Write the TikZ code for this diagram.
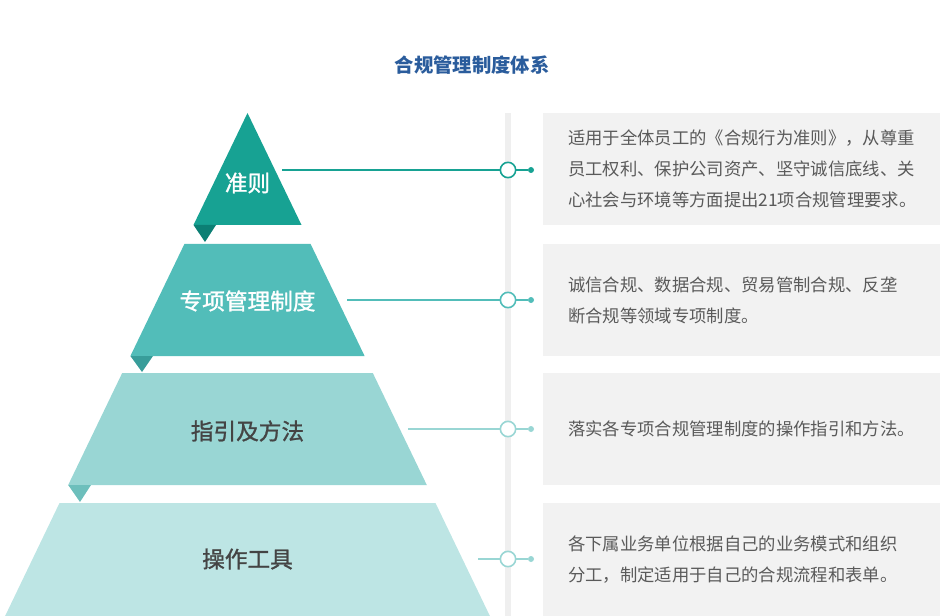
\documentclass[tikz,border=0pt]{standalone}
\usepackage{fontspec}
\newfontfamily\cjk{Noto Sans CJK SC}
\newfontfamily\cjklbl[FakeBold=1.2]{Noto Sans CJK SC}
\usetikzlibrary{positioning}

\definecolor{tierA}{HTML}{17A293}
\definecolor{tierAdk}{HTML}{0C7F74}
\definecolor{tierB}{HTML}{52BDB9}
\definecolor{tierBdk}{HTML}{389D9A}
\definecolor{tierC}{HTML}{99D6D4}
\definecolor{tierCdk}{HTML}{6DBFBC}
\definecolor{tierD}{HTML}{BDE5E4}
\definecolor{titleblue}{HTML}{2A5C9C}
\definecolor{boxgray}{HTML}{F2F2F2}
\definecolor{bargray}{HTML}{EFEFEF}
\definecolor{txtgray}{HTML}{5A5A5A}
\definecolor{lblgray}{HTML}{444444}

\begin{document}
\begin{tikzpicture}[x=0.75pt,y=-0.75pt,
  ring/.style={circle,draw=#1,fill=white,line width=1.2pt,minimum size=11.5pt,inner sep=0pt},
  knob/.style={circle,fill=#1,minimum size=4.5pt,inner sep=0pt},
  link/.style={draw=#1,line width=1.3pt},
  tierlbl/.style={font=\cjklbl\fontsize{17}{18}\selectfont},
  descbox/.style={fill=boxgray,minimum width=297.75pt,inner sep=0pt},
  desctext/.style={font=\cjk\fontsize{13}{23.25}\selectfont,text=txtgray,align=left,inner sep=0pt,anchor=west}]
\useasboundingbox (0,0) rectangle (944,616);

\node[font=\cjk\fontsize{14.5}{16}\selectfont\bfseries,text=titleblue] (title) at (472,65) {合规管理制度体系};

% grey rail
\fill[bargray] (505,113) rectangle (511,616);

% pyramid
\fill[tierA] (247.5,113) -- (301.5,225) -- (193.5,225) -- cycle;
\fill[tierAdk] (193.5,225) -- (216,225) -- (205,242) -- cycle;
\fill[tierB] (184.4,244) -- (310.6,244) -- (364.6,356) -- (130.4,356) -- cycle;
\fill[tierBdk] (130.4,356) -- (153,356) -- (142,372) -- cycle;
\fill[tierC] (122.2,373) -- (372.8,373) -- (426.8,485) -- (68.2,485) -- cycle;
\fill[tierCdk] (68.2,485) -- (91,485) -- (80,502) -- cycle;
\fill[tierD] (59.5,503) -- (435.5,503) -- (489.9,616) -- (5.1,616) -- cycle;

\node[tierlbl,text=white] (t1) at (247.5,183) {准则};
\node[tierlbl,text=white] (t2) at (247.5,301) {专项管理制度};
\node[tierlbl,text=lblgray] (t3) at (247.5,431) {指引及方法};
\node[tierlbl,text=lblgray] (t4) at (247.5,559) {操作工具};

% connectors
\coordinate (s1) at (282,170);
\coordinate (s2) at (347,300);
\coordinate (s3) at (408,429);
\coordinate (s4) at (478,559);
\node[ring=tierA] (c1) at (508,170) {};
\node[ring=tierB] (c2) at (508,300) {};
\node[ring=tierC] (c3) at (508,429) {};
\node[ring=tierC] (c4) at (508,559) {};
\node[knob=tierA] (k1) at (531,170) {};
\node[knob=tierB] (k2) at (531,300) {};
\node[knob=tierC] (k3) at (531,429) {};
\node[knob=tierC] (k4) at (531,559) {};
\draw[link=tierA] (s1) -- (c1) (c1) -- (k1);
\draw[link=tierB] (s2) -- (c2) (c2) -- (k2);
\draw[link=tierC] (s3) -- (c3) (c3) -- (k3);
\draw[link=tierC] (s4) -- (c4) (c4) -- (k4);

% descriptions
\node[descbox,minimum height=84pt] (b1) at (741.5,169) {};
\node[descbox,minimum height=84pt] (b2) at (741.5,300) {};
\node[descbox,minimum height=84pt] (b3) at (741.5,429) {};
\node[descbox,minimum height=84.75pt] (b4) at (741.5,559.5) {};
\node[desctext] (d1) at ([xshift=18.75pt]b1.west) {适用于全体员工的《合规行为准则》，从尊重\\员工权利、保护公司资产、坚守诚信底线、关\\心社会与环境等方面提出21项合规管理要求。};
\node[desctext] (d2) at ([xshift=18.75pt]b2.west) {诚信合规、数据合规、贸易管制合规、反垄\\断合规等领域专项制度。};
\node[desctext] (d3) at ([xshift=18.75pt]b3.west) {落实各专项合规管理制度的操作指引和方法。};
\node[desctext] (d4) at ([xshift=18.75pt]b4.west) {各下属业务单位根据自己的业务模式和组织\\分工，制定适用于自己的合规流程和表单。};
\end{tikzpicture}
\end{document}
